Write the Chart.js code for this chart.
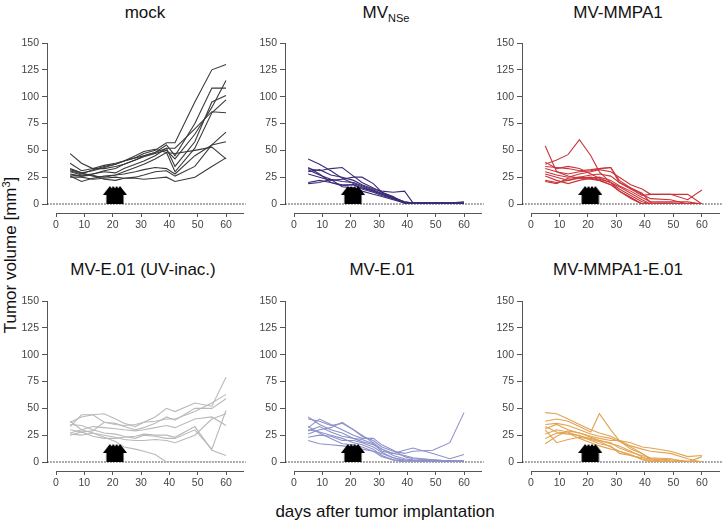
<!DOCTYPE html>
<html>
<head>
<meta charset="utf-8">
<script src="https://cdn.jsdelivr.net/npm/chart.js@4/dist/chart.umd.min.js"></script>
<style>
  body { margin: 0; background: #fff; width: 726px; height: 522px; position: relative; overflow: hidden;
         font-family: 'Liberation Sans', Arial, sans-serif; color: #111; }
  canvas { position: absolute; }
  .title { position: absolute; font-size: 17px; white-space: nowrap; transform: translate(-50%, -50%); }
  .title sub { font-size: 11px; vertical-align: -4px; }
  #ytitle { position: absolute; left: 10px; top: 255px; font-size: 17px; white-space: nowrap;
            transform: translate(-50%, -50%) rotate(-90deg); }
  #ytitle sup { font-size: 11px; vertical-align: 6px; }
  #xtitle { position: absolute; left: 385px; top: 512px; font-size: 17px; white-space: nowrap; transform: translate(-50%, -50%); }
</style>
</head>
<body>

<div class="title" style="left:145px; top:13px;">mock</div>
<div class="title" style="left:386px; top:13px;">MV<sub>NSe</sub></div>
<div class="title" style="left:618px; top:13px;">MV-MMPA1</div>
<div class="title" style="left:143px; top:270px;">MV-E.01 (UV-inac.)</div>
<div class="title" style="left:382px; top:270px;">MV-E.01</div>
<div class="title" style="left:618px; top:270px;">MV-MMPA1-E.01</div>
<div id="ytitle">Tumor volume [mm<sup>3</sup>]</div>
<div id="xtitle">days after tumor implantation</div>

<canvas id="c0" width="250" height="205" style="left:0px; top:30px;"></canvas>
<canvas id="c1" width="250" height="205" style="left:238px; top:30px;"></canvas>
<canvas id="c2" width="251" height="205" style="left:475px; top:30px;"></canvas>
<canvas id="c3" width="250" height="205" style="left:0px; top:288px;"></canvas>
<canvas id="c4" width="250" height="205" style="left:238px; top:288px;"></canvas>
<canvas id="c5" width="251" height="205" style="left:475px; top:288px;"></canvas>

<script>
// measurement days (x) shared by every mouse
const days = [5, 9, 13, 17, 21, 24, 28, 31, 35, 39, 42, 49, 55, 60];
// treatment days (arrows)
const treatDays = [19, 20.2, 21.4, 22.6];
const yTicks = [0, 25, 50, 75, 100, 125, 150];

const mock = [
  [38, 31, 33, 36, 38, 40, 43, 47, 50, 57, 57, 95, 125, 130],
  [33, 29, 31, 34, 37, 40, 43, 45, 48, 55, 45, 75, 108, 108],
  [30, 27, 28, 31, 33, 37, 41, 44, 47, 50, 42, 65, 90, 115],
  [47, 38, 33, 33, 35, 37, 41, 45, 48, 52, 52, 70, 86, 85],
  [28, 26, 28, 30, 29, 33, 37, 40, 45, 52, 35, 58, 95, 101],
  [32, 29, 26, 25, 27, 30, 34, 37, 42, 48, 30, 52, 85, 97],
  [26, 21, 24, 26, 27, 28, 30, 32, 34, 33, 28, 45, 55, 58],
  [25, 25, 23, 24, 25, 24, 25, 27, 30, 31, 26, 35, 55, 67],
  [27, 26, 27, 23, 22, 24, 24, 23, 24, 25, 21, 25, 35, 43],
  [31, 28, 32, 35, 37, 40, 45, 49, 51, 48, 47, 50, 53, 42]
];
const mvNSe = [
  [42, 37, 31, 24, 19, 16, 12, 9, 6, 2, 1, 1, 0.5, 0],
  [33, 31, 33, 34, 26, 20, 15, 11, 7, 1, 1, 1, 1, 0.5],
  [30, 32, 27, 25, 22, 18, 14, 12, 11, 12, 1, 1, 1, 1],
  [28, 25, 22, 23, 25, 25, 19, 11, 6, 2, 1, 0.5, 0, 0],
  [20, 22, 20, 18, 18, 15, 12, 9, 5, 1, 1, 1, 1, 1],
  [19, 20, 23, 16, 15, 12, 9, 7, 4, 1, 1, 1, 1, 2],
  [32, 27, 23, 21, 20, 17, 13, 10, 6, 1, 1, 1, 1, 1],
  [34, 28, 20, 17, 18, 14, 11, 8, 5, 1, 1, 1, 1, 0.5]
];
const mvMMPA1 = [
  [54, 30, 26, 24, 23, 22, 18, 12, 6, 0, 0, 0, 0, 0],
  [37, 41, 46, 60, 45, 30, 20, 12, 5, 0, 0, 0, 0, 0],
  [35, 34, 33, 31, 32, 33, 34, 22, 15, 10, 1, 1, 0, 0],
  [33, 30, 28, 30, 31, 33, 34, 20, 14, 8, 9, 9, 4, 13],
  [30, 27, 25, 28, 30, 32, 30, 25, 18, 14, 9, 9, 9, 0],
  [28, 25, 22, 25, 27, 28, 26, 20, 15, 9, 5, 4, 0, 0],
  [26, 22, 19, 22, 24, 25, 22, 17, 12, 6, 2, 2, 2, 0],
  [22, 20, 22, 24, 25, 23, 20, 14, 8, 2, 0, 0, 0, 0],
  [21, 19, 24, 25, 24, 22, 18, 12, 6, 0, 0, 0, 0, 0],
  [39, 33, 35, 33, 28, 24, 20, 16, 10, 4, 0, 0, 0, 0]
];
const mvE01UV = [
  [37, 42, 44, 45, 40, 36, 33, 37, 42, 50, 47, 55, 52, 79],
  [33, 44, 44, 37, 35, 34, 35, 37, 38, 40, 40, 47, 55, 63],
  [30, 28, 29, 37, 36, 33, 30, 32, 36, 42, 39, 50, 50, 59],
  [27, 30, 33, 32, 31, 30, 29, 30, 32, 34, 32, 40, 42, 34],
  [35, 34, 30, 27, 26, 24, 22, 25, 24, 22, 22, 30, 12, 48],
  [26, 25, 27, 25, 23, 21, 20, 20, 21, 20, 18, 25, 40, 45],
  [38, 30, 27, 23, 19, 14, 12, 10, 7, 0, 0, 0, 0, 0],
  [25, 28, 24, 22, 22, 23, 24, 26, 25, 25, 23, 33, 11, 6]
];
const mvE01 = [
  [42, 35, 30, 27, 22, 19, 16, 12, 8, 6, 4, 2, 1, 1],
  [40, 38, 34, 36, 30, 24, 20, 14, 10, 8, 10, 11, 18, 46],
  [32, 40, 35, 30, 25, 22, 22, 16, 11, 5, 3, 2, 1, 1],
  [29, 33, 28, 24, 22, 21, 17, 10, 8, 11, 13, 8, 3, 7],
  [26, 30, 32, 37, 30, 25, 18, 12, 6, 3, 2, 1, 1, 1],
  [23, 25, 24, 20, 20, 18, 14, 9, 4, 1, 1, 1, 0, 0],
  [30, 28, 25, 22, 18, 16, 12, 6, 2, 0, 0, 1, 1, 1],
  [33, 27, 22, 17, 16, 14, 10, 5, 2, 1, 1, 1, 1, 1],
  [20, 17, 16, 15, 14, 12, 10, 8, 4, 2, 1, 1, 1, 0]
];
const mvMMPA1E01 = [
  [46, 45, 40, 35, 30, 27, 24, 20, 15, 12, 10, 8, 3, 0],
  [38, 40, 38, 33, 28, 45, 30, 20, 12, 8, 2, 0, 0, 0],
  [35, 36, 34, 30, 26, 24, 22, 19, 14, 8, 3, 1, 0, 0],
  [31, 35, 30, 27, 24, 22, 20, 20, 18, 14, 13, 10, 5, 6],
  [26, 30, 28, 24, 22, 20, 17, 15, 10, 5, 1, 0, 0, 0],
  [22, 27, 26, 25, 20, 17, 15, 8, 6, 3, 1, 0, 0, 0],
  [17, 24, 29, 27, 23, 20, 18, 13, 9, 6, 4, 3, 0, 5],
  [33, 28, 27, 22, 18, 15, 12, 10, 7, 2, 0, 0, 0, 0],
  [30, 18, 21, 23, 21, 19, 14, 10, 6, 4, 3, 2, 1, 0]
];

const groups = [mock, mvNSe, mvMMPA1, mvE01UV, mvE01, mvMMPA1E01];
const colors = ['#3a3a3a', '#3b2a78', '#c9353a', '#b9b9b9', '#8d91c9', '#e2a352'];

// block arrow marking treatment
function arrowImage() {
  const c = document.createElement('canvas');
  c.width = 14; c.height = 18;
  const g = c.getContext('2d');
  g.fillStyle = '#000';
  g.beginPath();
  g.moveTo(7, 0); g.lineTo(14, 9); g.lineTo(10.5, 9); g.lineTo(10.5, 18);
  g.lineTo(3.5, 18); g.lineTo(3.5, 9); g.lineTo(0, 9);
  g.closePath(); g.fill();
  return c;
}
const arrow = arrowImage();

const tickFont = { family: "'Liberation Sans', Arial, sans-serif", size: 10.5 };
const axisColor = '#555';

function makeChart(id, group, color) {
  const datasets = group.map(vals => ({
    data: days.map((d, i) => ({ x: d, y: vals[i] })),
    borderColor: color,
    borderWidth: 1.1,
    pointRadius: 0,
    tension: 0,
    order: 1
  }));
  // dotted baseline at 0, running from the y axis to the end of the x axis
  datasets.push({
    data: [{ x: -3.1, y: 0 }, { x: 67, y: 0 }],
    borderColor: '#222',
    borderWidth: 1,
    borderDash: [1.5, 1.5],
    pointRadius: 0,
    clip: false,
    order: 2
  });
  datasets.push({
    data: treatDays.map(d => ({ x: d, y: 8.4 })),
    showLine: false,
    pointStyle: arrow,
    pointRadius: 6,
    order: 0
  });

  new Chart(document.getElementById(id), {
    type: 'line',
    data: { datasets },
    options: {
      responsive: false,
      animation: false,
      layout: { padding: { top: 13, right: 3, left: 0, bottom: 0 } },
      plugins: { legend: { display: false }, tooltip: { enabled: false } },
      scales: {
        x: {
          type: 'linear', position: 'bottom', weight: 1,
          min: 0, max: 66,
          border: { color: axisColor, width: 1 },
          grid: { drawOnChartArea: false, tickLength: 4, color: axisColor },
          ticks: { stepSize: 10, includeBounds: false, padding: 2, color: '#444', font: tickFont, maxRotation: 0 },
          afterFit: s => { s.height = 22; }
        },
        xg: {
          type: 'linear', position: 'bottom', weight: 0,
          border: { display: false }, grid: { display: false }, ticks: { display: false },
          afterFit: s => { s.height = 9; }
        },
        y: {
          type: 'linear', position: 'left', weight: 1,
          min: 0, max: 150,
          afterBuildTicks: s => { s.ticks = yTicks.map(v => ({ value: v })); },
          border: { color: axisColor, width: 1 },
          grid: { drawOnChartArea: false, tickLength: 5, color: axisColor },
          ticks: { padding: 3, color: '#444', font: tickFont },
          afterFit: s => { s.width = 47; }
        },
        yg: {
          type: 'linear', position: 'left', weight: 0,
          border: { display: false }, grid: { display: false }, ticks: { display: false },
          afterFit: s => { s.width = 9; }
        }
      }
    }
  });
}

groups.forEach((g, i) => makeChart('c' + i, g, colors[i]));
</script>
</body>
</html>
